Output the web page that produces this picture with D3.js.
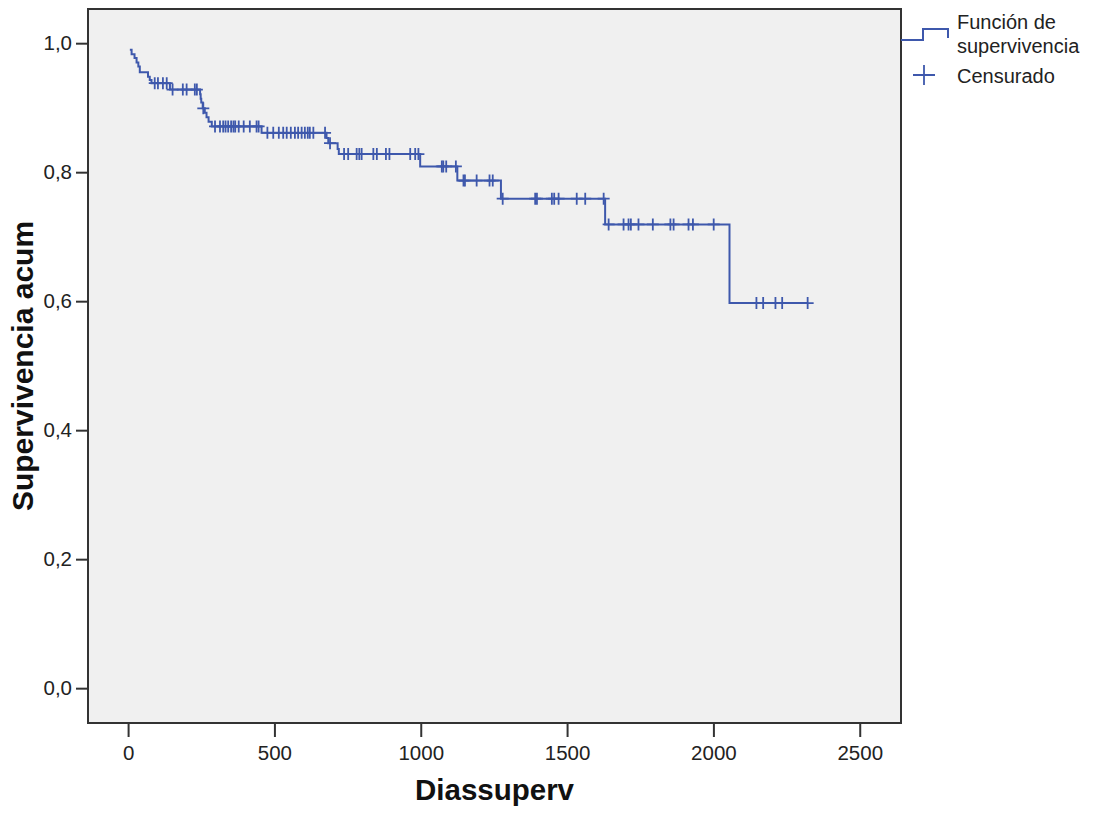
<!DOCTYPE html>
<html>
<head>
<meta charset="utf-8">
<title>Función de supervivencia</title>
<script src="https://cdn.jsdelivr.net/npm/d3@7"></script>
<style>
  body { margin: 0; background: #fff; }
  text { font-family: "Liberation Sans", Arial, sans-serif; }
  .tick text { font-size: 20.5px; fill: #222; }
  .tick line { stroke: #333; stroke-width: 2; }
  .domain { display: none; }
  .title { font-weight: bold; fill: #111; }
  .legend { font-size: 20px; fill: #222; }
</style>
</head>
<body>
<script>
// days of each event and the cumulative survival right after it
var eventDays = [6, 12, 22, 29, 35, 40, 68, 74, 80, 143, 246, 248, 250, 255, 262, 268, 275, 286,
                 456, 678, 684, 716, 720, 998, 1125, 1274, 1630, 2055];
var survAfter = [0.990, 0.983, 0.977, 0.970, 0.964, 0.955, 0.948, 0.943, 0.938, 0.928, 0.921, 0.914,
                 0.908, 0.899, 0.892, 0.885, 0.878, 0.871, 0.861, 0.853, 0.845, 0.836, 0.828, 0.809,
                 0.787, 0.759, 0.719, 0.597];
// censored cases (days)
var censorDays = [91, 102, 119, 132, 152, 187, 200, 228, 235, 257,
                  297, 314, 325, 333, 342, 352, 360, 366, 378, 395, 416, 439, 446,
                  476, 496, 515, 530, 542, 556, 570, 581, 593, 604, 614, 621, 633, 673, 690,
                  738, 752, 781, 790, 798, 838, 850, 881, 893, 964, 981, 992,
                  1072, 1077, 1087, 1120, 1146, 1151, 1191, 1235, 1246,
                  1280, 1391, 1397, 1448, 1456, 1471, 1533, 1562, 1625,
                  1642, 1693, 1710, 1718, 1744, 1793, 1853, 1864, 1915, 1930, 2001,
                  2147, 2170, 2212, 2235, 2322];
var xTicks = [0, 500, 1000, 1500, 2000, 2500];
var yTicks = [0, 0.2, 0.4, 0.6, 0.8, 1.0];
var legendLabels = [["Función de", "supervivencia"], ["Censurado"]];

var w = 1096, h = 813;
var pLeft = 88, pRight = 901, pTop = 9, pBottom = 723;
var blue = "#3e58ac";

var svg = d3.select("body").append("svg")
  .attr("width", w)
  .attr("height", h);

var x = d3.scaleLinear().domain([-137, 2641]).range([pLeft, pRight]);
var y = d3.scaleLinear().domain([-0.054, 1.053]).range([pBottom, pTop]);

// plot background
svg.append("rect")
  .attr("x", pLeft).attr("y", pTop)
  .attr("width", pRight - pLeft).attr("height", pBottom - pTop)
  .attr("fill", "#f0f0f0");

// axes
svg.append("g")
  .attr("transform", "translate(" + pLeft + ",0)")
  .call(d3.axisLeft(y).tickValues(yTicks).tickSize(12).tickPadding(4)
    .tickFormat(function(d) { return d3.format(".1f")(d).replace(".", ","); }));

svg.append("g")
  .attr("transform", "translate(0," + pBottom + ")")
  .call(d3.axisBottom(x).tickValues(xTicks).tickSize(14).tickPadding(8)
    .tickFormat(d3.format("d")));

// step curve
var endDay = d3.max(censorDays);
var pts = eventDays.map(function(d, i) { return [d, survAfter[i]]; });
pts.push([endDay, survAfter[survAfter.length - 1]]);

var line = d3.line()
  .x(function(d) { return x(d[0]); })
  .y(function(d) { return y(d[1]); })
  .curve(d3.curveStepAfter);

svg.append("path")
  .datum(pts)
  .attr("d", line)
  .attr("fill", "none")
  .attr("stroke", blue)
  .attr("stroke-width", 2);

// survival at a given day
function survAt(t) {
  var i = d3.bisectRight(eventDays, t) - 1;
  return i < 0 ? 1 : survAfter[i];
}

var cs = 6;
var cross = svg.append("g").attr("stroke", blue).attr("stroke-width", 1.8);
cross.selectAll("path")
  .data(censorDays)
  .enter()
  .append("path")
  .attr("d", function(d) {
    var cx = x(d), cy = y(survAt(d));
    return "M" + (cx - cs) + "," + cy + "H" + (cx + cs) + "M" + cx + "," + (cy - cs) + "V" + (cy + cs);
  });

// frame
svg.append("rect")
  .attr("x", pLeft).attr("y", pTop)
  .attr("width", pRight - pLeft).attr("height", pBottom - pTop)
  .attr("fill", "none")
  .attr("stroke", "#333")
  .attr("stroke-width", 2);

// axis titles
svg.append("text")
  .attr("class", "title")
  .attr("x", (pLeft + pRight) / 2)
  .attr("y", 800)
  .attr("text-anchor", "middle")
  .style("font-size", "29.5px")
  .text("Diassuperv");

svg.append("text")
  .attr("class", "title")
  .attr("transform", "translate(33," + (pTop + pBottom) / 2 + ") rotate(-90)")
  .attr("text-anchor", "middle")
  .style("font-size", "30px")
  .text("Supervivencia acum");

// legend
var lg = svg.append("g");
lg.append("path")
  .attr("d", "M901,40H923V29H948V38")
  .attr("fill", "none")
  .attr("stroke", blue)
  .attr("stroke-width", 2);
lg.append("path")
  .attr("d", "M913,75H935M924,65V85")
  .attr("stroke", blue)
  .attr("stroke-width", 1.8);

var lt = lg.append("text").attr("class", "legend").attr("x", 957).attr("y", 29);
lt.selectAll("tspan")
  .data(legendLabels[0])
  .enter()
  .append("tspan")
  .attr("x", 957)
  .attr("dy", function(d, i) { return i ? 24 : 0; })
  .text(function(d) { return d; });
lg.append("text").attr("class", "legend")
  .attr("x", 957).attr("y", 83)
  .text(legendLabels[1][0]);
</script>
</body>
</html>
